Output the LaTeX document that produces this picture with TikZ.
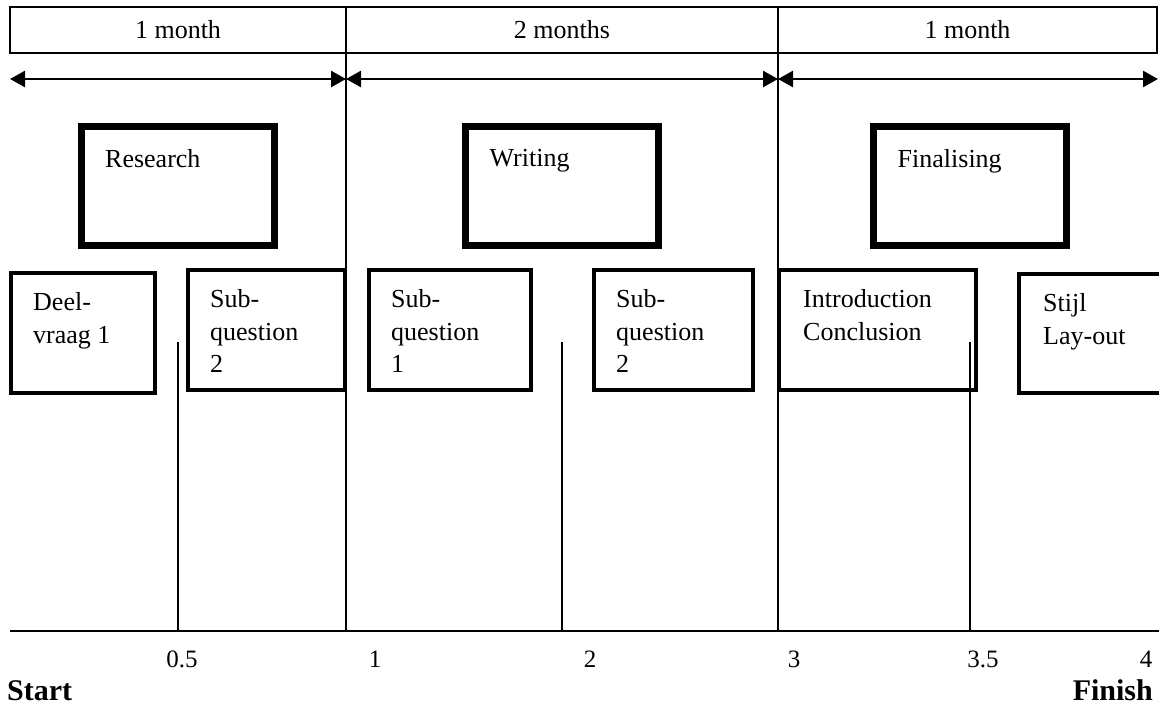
\documentclass[tikz,border=0pt]{standalone}
\usepackage{fontspec}
\setmainfont{Liberation Serif}
\usetikzlibrary{arrows.meta}
\begin{document}
\begin{tikzpicture}[x=1pt, y=-1pt,
    phase/.style={draw, line width=2pt, outer sep=0pt, inner sep=0pt, minimum height=46pt, font=\fontsize{26}{30}\selectfont},
    bigbox/.style={draw, line width=7pt, outer sep=0pt, inner sep=0pt, minimum width=193pt, minimum height=119pt},
    smallbox/.style={draw, line width=4pt, outer sep=0pt, inner sep=0pt, minimum height=120pt},
    boxtext/.style={anchor=north west, inner sep=0pt, align=left, font=\fontsize{26}{32.5}\selectfont},
    timearrow/.style={line width=2.5pt, {Triangle[length=15pt,width=16pt]}-{Triangle[length=15pt,width=16pt]}},
    divider/.style={line width=2pt},
    tick/.style={anchor=base, inner sep=0pt, font=\fontsize{25}{30}\selectfont},
    endpoint/.style={inner sep=0pt, font=\fontsize{30}{36}\selectfont\bfseries}]
    \useasboundingbox (0,0) rectangle (1159,707);
    % duration bar
    \node[phase, minimum width=336pt] (m1) at (178,30) {1 month};
    \node[phase, minimum width=432pt] (m2) at (562,30) {2 months};
    \node[phase, minimum width=379pt] (m3) at (967.5,30) {1 month};
    \coordinate (a0) at (10,79);
    \coordinate (a1) at (346,79);
    \coordinate (a2) at (778,79);
    \coordinate (a3) at (1158,79);
    \path (a0) edge[timearrow] (a1);
    \path (a1) edge[timearrow] (a2);
    \path (a2) edge[timearrow] (a3);
    % phases
    \node[bigbox, label={[boxtext, xshift=24pt, yshift=-22.5pt]north west:Research}] (research) at (177.5,186) {};
    \node[bigbox, label={[boxtext, xshift=24pt, yshift=-22.5pt]north west:Writing}] (writing) at (562,186) {};
    \node[bigbox, label={[boxtext, xshift=24pt, yshift=-22.5pt]north west:Finalising}] (finalising) at (970,186) {};
    % tasks
    \node[smallbox, minimum width=144pt, label={[boxtext, xshift=22pt, yshift=-19.5pt]north west:{Deel-\\vraag 1}}] (dv1) at (83,333) {};
    \node[smallbox, minimum width=157pt, label={[boxtext, xshift=22pt, yshift=-19.5pt]north west:{Sub-\\question\\2}}] (sq2a) at (266.5,330) {};
    \node[smallbox, minimum width=162pt, label={[boxtext, xshift=22pt, yshift=-19.5pt]north west:{Sub-\\question\\1}}] (sq1b) at (450,330) {};
    \node[smallbox, minimum width=159pt, label={[boxtext, xshift=22pt, yshift=-19.5pt]north west:{Sub-\\question\\2}}] (sq2b) at (673.5,330) {};
    \node[smallbox, minimum width=197pt, label={[boxtext, xshift=24pt, yshift=-19.5pt]north west:{Introduction\\Conclusion}}] (intro) at (877.5,330) {};
    \node[smallbox, minimum width=146pt, minimum height=119pt, label={[boxtext, xshift=24pt, yshift=-19.5pt]north west:{Stijl\\Lay-out}}] (stijl) at (1092,333.5) {};
    % time axis
    \coordinate (x0) at (10,631);
    \coordinate (x05) at (178,631);
    \coordinate (x1) at (346,631);
    \coordinate (x2) at (562,631);
    \coordinate (x3) at (778,631);
    \coordinate (x35) at (970,631);
    \coordinate (x4) at (1159,631);
    \coordinate (h05) at (178,342);
    \coordinate (h2) at (562,342);
    \coordinate (h35) at (970,342);
    \path (x0) edge[divider] (x4);
    \path (m1.south east) edge[divider] (x1);
    \path (m2.south east) edge[divider] (x3);
    \path (h05) edge[divider] (x05);
    \path (h2) edge[divider] (x2);
    \path (h35) edge[divider] (x35);
    % axis labels
    \node[tick] (n05) at (182,667) {0.5};
    \node[tick] (n1) at (375,667) {1};
    \node[tick] (n2) at (590,667) {2};
    \node[tick] (n3) at (794,667) {3};
    \node[tick] (n35) at (983,667) {3.5};
    \node[tick] (n4) at (1146,667) {4};
    \node[endpoint, anchor=base west] (start) at (7,700) {Start};
    \node[endpoint, anchor=base east] (finish) at (1153,700) {Finish};
\end{tikzpicture}
\end{document}
